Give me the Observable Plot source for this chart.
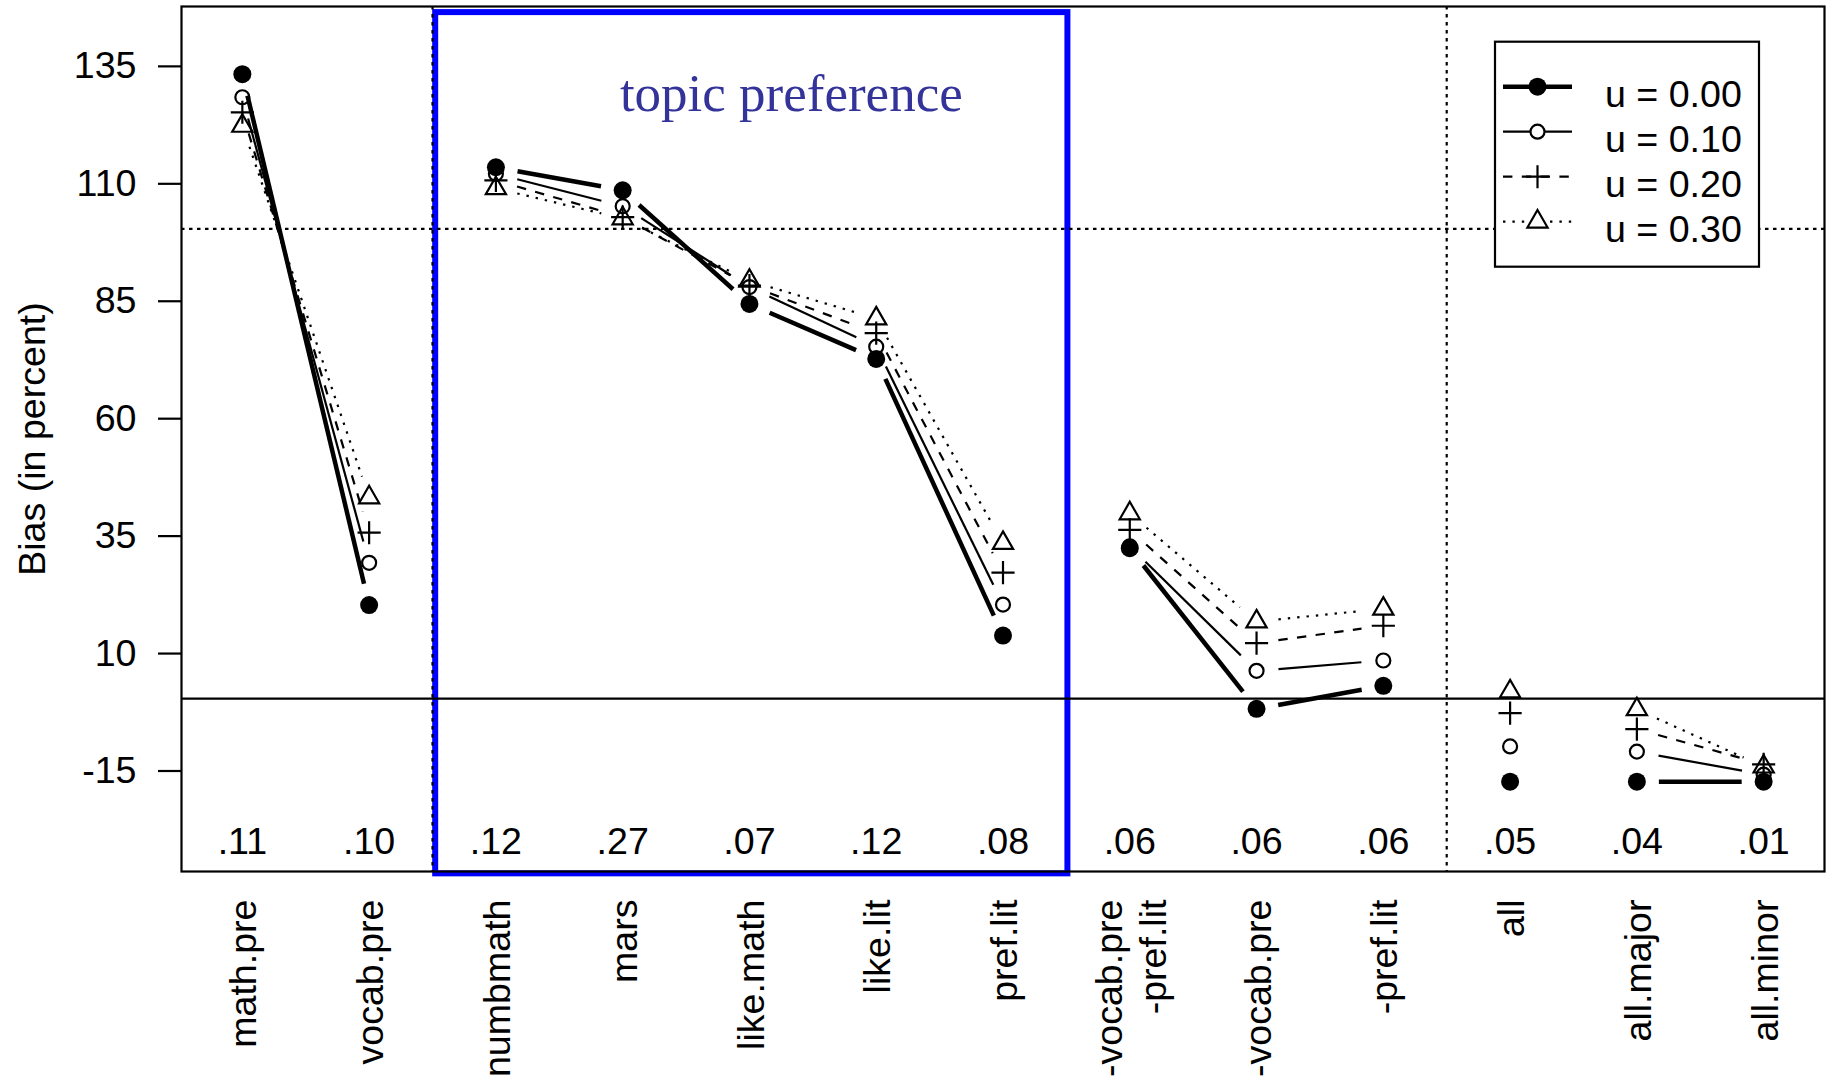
<!DOCTYPE html>
<html>
<head>
<meta charset="utf-8">
<script src="https://cdn.jsdelivr.net/npm/d3@7"></script>
<script src="https://cdn.jsdelivr.net/npm/@observablehq/plot@0.6"></script>
<style>
  html, body { margin: 0; padding: 0; background: #fff; }
  svg { display: block; }
</style>
</head>
<body>
<div id="chart"></div>
<script>
// Outcome variables, in plotting order
const categories = [
  "math.pre", "vocab.pre", "numbmath", "mars", "like.math", "like.lit", "pref.lit",
  "-vocab.pre\n-pref.lit", "-vocab.pre", "-pref.lit", "all", "all.major", "all.minor"
];
// Proportion printed under each variable
const proportions = [".11", ".10", ".12", ".27", ".07", ".12", ".08", ".06", ".06", ".06", ".05", ".04", ".01"];
// Variables sharing a block number are joined by line segments
const blocks = [1, 1, 2, 2, 2, 2, 2, 3, 3, 3, 4, 5, 5];

// Bias (in percent) for each value of u
const bias_u000 = [132.9, 19.9, 113.1, 108.2, 84.0, 72.3, 13.4, 32.0, -2.2, 2.7, -17.7, -17.7, -17.7];
const bias_u010 = [128.0, 28.9, 111.7, 104.8, 87.6, 74.9, 20.0, 32.4, 5.9, 8.1, -10.2, -11.3, -16.2];
const bias_u020 = [124.8, 35.3, 110.3, 102.5, 87.9, 77.8, 26.8, 35.9, 11.8, 15.5, -3.1, -6.5, -14.0];
const bias_u030 = [121.9, 42.8, 108.6, 102.2, 88.9, 80.9, 33.1, 39.4, 16.4, 19.1, 1.5, -2.3, -14.5];

const seriesNames = ["u = 0.00", "u = 0.10", "u = 0.20", "u = 0.30"];
const yTicks = [-15, 10, 35, 60, 85, 110, 135];
const topicBlock = ["numbmath", "pref.lit"];       // first and last variable of the boxed block
const dividersAfter = ["vocab.pre", "-pref.lit"];  // dotted separators follow these variables
const topicLabel = "topic preference";
const yTitle = "Bias (in percent)";

// ---- geometry ----
const W = 1833, H = 1089;
const M = {top: 6, right: 9, bottom: 218, left: 181};
const n = categories.length;
const xDomain = [1 - 0.04 * (n - 1), n + 0.04 * (n - 1)];
const yLim = [-30, 140.5];
const ySpan = yLim[1] - yLim[0];
const yDomain = [yLim[0] - 0.04 * ySpan, yLim[1] + 0.04 * ySpan];
const pxPerX = (W - M.left - M.right) / (xDomain[1] - xDomain[0]);
const pxPerY = (H - M.top - M.bottom) / (yDomain[1] - yDomain[0]);

const FONT = "'Liberation Sans', Arial, Helvetica, sans-serif";
const FS = 37.6;
const LW = 2.2;

const seriesValues = [bias_u000, bias_u010, bias_u020, bias_u030];
const seriesStyle = [
  {symbol: "circle",   r: 9,   fill: "black", stroke: "none",  sw: 0,  lineWidth: 4.5, dash: null},
  {symbol: "circle",   r: 7,   fill: "none",  stroke: "black", sw: LW, lineWidth: LW,  dash: null},
  {symbol: "plus",     r: 7.5, fill: "none",  stroke: "black", sw: LW, lineWidth: LW,  dash: "9.4 9.4"},
  {symbol: "triangle", r: 7.5, fill: "none",  stroke: "black", sw: LW, lineWidth: LW,  dash: "2.4 7"}
];

// Segments between neighbouring points, trimmed so they stop short of the symbols
const GAP = 22;
function trimmed(x1, y1, x2, y2) {
  const L = Math.hypot((x2 - x1) * pxPerX, (y2 - y1) * pxPerY);
  if (L <= 2 * GAP) return null;
  const f = GAP / L;
  return {x1: x1 + (x2 - x1) * f, y1: y1 + (y2 - y1) * f,
          x2: x2 - (x2 - x1) * f, y2: y2 - (y2 - y1) * f};
}

const lineMarks = [];
const dotMarks = [];
seriesValues.forEach((vals, s) => {
  const st = seriesStyle[s];
  const segs = [];
  for (let i = 0; i + 1 < n; i++) {
    if (blocks[i] !== blocks[i + 1]) continue;
    const seg = trimmed(i + 1, vals[i], i + 2, vals[i + 1]);
    if (seg) segs.push(seg);
  }
  lineMarks.push(Plot.link(segs, {
    x1: "x1", y1: "y1", x2: "x2", y2: "y2",
    stroke: "black", strokeWidth: st.lineWidth,
    strokeDasharray: st.dash || undefined, strokeLinecap: "butt"
  }));
  const pts = vals.map((v, i) => ({x: i + 1, y: v}));
  dotMarks.push(Plot.dot(pts, {
    x: "x", y: "y", symbol: st.symbol, r: st.r,
    fill: st.fill, stroke: st.stroke, strokeWidth: st.sw
  }));
});

const boxX1 = categories.indexOf(topicBlock[0]) + 1 - 0.5;
const boxX2 = categories.indexOf(topicBlock[1]) + 1 + 0.5;
const dividerX = dividersAfter.map(c => categories.indexOf(c) + 1.5);

const chart = Plot.plot({
  width: W, height: H,
  marginTop: M.top, marginRight: M.right, marginBottom: M.bottom, marginLeft: M.left,
  x: {type: "linear", domain: xDomain, axis: null},
  y: {type: "linear", domain: yDomain, axis: null},
  style: {fontFamily: FONT, fontSize: `${FS}px`, background: "white", color: "black", overflow: "visible"},
  marks: [
    Plot.rect([{}], {
      x1: () => boxX1 + 0.025, x2: () => boxX2 + 0.012,
      y1: () => yDomain[0] - 0.5, y2: () => yDomain[1] - 1.3,
      fill: "none", stroke: "#0000ff", strokeWidth: 6
    }),
    Plot.ruleY([100], {stroke: "black", strokeWidth: LW, strokeDasharray: "3.5 4.5"}),
    Plot.ruleX(dividerX, {stroke: "black", strokeWidth: LW, strokeDasharray: "3.5 4.5"}),
    Plot.ruleY([0], {stroke: "black", strokeWidth: LW}),
    Plot.text([topicLabel], {
      x: () => (boxX1 + boxX2) / 2 + 0.33, y: () => 128.6, text: d => d,
      fontFamily: "'Liberation Serif', 'Times New Roman', Times, serif",
      fontSize: 53, fill: "#333399", textAnchor: "middle"
    }),
    ...lineMarks,
    ...dotMarks,
    Plot.text(proportions, {
      x: (d, i) => i + 1, y: () => yLim[0], text: d => d, dy: 2, fill: "black"
    }),
    Plot.text(categories, {
      x: (d, i) => i + 1, frameAnchor: "bottom", dy: 28, text: d => d,
      rotate: -90, textAnchor: "end", lineAnchor: "middle", lineHeight: 1.17, fill: "black"
    }),
    Plot.axisY({
      ticks: yTicks, tickFormat: d => `${d}`, tickSize: 23, tickPadding: 22,
      strokeWidth: LW, label: null, fontSize: FS, dy: 2
    }),
    Plot.text([yTitle], {
      frameAnchor: "left", dx: -149, rotate: -90, text: d => d,
      textAnchor: "middle", lineAnchor: "middle", fill: "black"
    }),
    Plot.frame({stroke: "black", strokeWidth: LW})
  ]
});

// Legend box in the upper right corner of the panel
const svg = d3.select(chart);
const lg = svg.append("g").attr("text-anchor", "start");
const bx1 = W - M.right - 65, bx0 = bx1 - 264, by0 = M.top + 35.7, bh = 225;
lg.append("rect").attr("x", bx0).attr("y", by0).attr("width", bx1 - bx0).attr("height", bh)
  .attr("fill", "white").attr("stroke", "black").attr("stroke-width", LW);
const symbolFor = {circle: d3.symbolCircle, plus: d3.symbolPlus, triangle: d3.symbolTriangle};
seriesNames.forEach((name, s) => {
  const st = seriesStyle[s];
  const cy = by0 + 45 + s * 45;
  const lx0 = bx0 + 8, lx1 = bx0 + 77, sx = (lx0 + lx1) / 2;
  lg.append("line").attr("x1", lx0).attr("x2", lx1).attr("y1", cy).attr("y2", cy)
    .attr("stroke", "black").attr("stroke-width", st.lineWidth)
    .attr("stroke-dasharray", st.dash || null).attr("stroke-linecap", "butt");
  lg.append("path")
    .attr("transform", `translate(${sx},${cy})`)
    .attr("d", d3.symbol(symbolFor[st.symbol], Math.PI * st.r * st.r)())
    .attr("fill", st.fill === "none" ? "white" : st.fill)
    .attr("stroke", st.stroke).attr("stroke-width", st.sw);
  lg.append("text").attr("x", bx0 + 110).attr("y", cy).attr("dy", 20)
    .attr("text-anchor", "start")
    .attr("font-family", FONT).attr("font-size", FS).attr("fill", "black").text(name);
});

document.getElementById("chart").appendChild(chart);
</script>
</body>
</html>
